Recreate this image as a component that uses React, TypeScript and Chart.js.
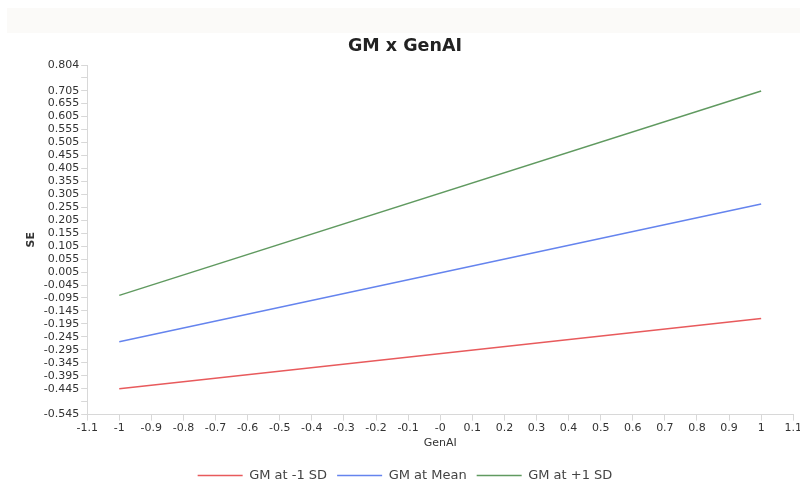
import React, { useEffect, useRef } from "react";
import { Chart, registerables } from "chart.js";

Chart.register(...registerables);

const genAI = [-1, 1];
const gmLow = [-0.445, -0.174];
const gmMean = [-0.264, 0.268];
const gmHigh = [-0.085, 0.704];

const seriesLabels = ["GM at -1 SD", "GM at Mean", "GM at +1 SD"];
const seriesColors = ["#e85a5c", "#6584ee", "#609a60"];

const yTickValues = [
  0.804, 0.755, 0.705, 0.655, 0.605, 0.555, 0.505, 0.455, 0.405, 0.355, 0.305,
  0.255, 0.205, 0.155, 0.105, 0.055, 0.005, -0.045, -0.095, -0.145, -0.195,
  -0.245, -0.295, -0.345, -0.395, -0.445, -0.495, -0.545,
];
const yTickLabels = [
  "0.804", "", "0.705", "0.655", "0.605", "0.555", "0.505", "0.455", "0.405",
  "0.355", "0.305", "0.255", "0.205", "0.155", "0.105", "0.055", "0.005",
  "-0.045", "-0.095", "-0.145", "-0.195", "-0.245", "-0.295", "-0.345",
  "-0.395", "-0.445", "", "-0.545",
];

const xTickValues = [
  -1.1, -1, -0.9, -0.8, -0.7, -0.6, -0.5, -0.4, -0.3, -0.2, -0.1, 0, 0.1, 0.2,
  0.3, 0.4, 0.5, 0.6, 0.7, 0.8, 0.9, 1, 1.1,
];
const xTickLabels = [
  "-1.1", "-1", "-0.9", "-0.8", "-0.7", "-0.6", "-0.5", "-0.4", "-0.3", "-0.2",
  "-0.1", "-0", "0.1", "0.2", "0.3", "0.4", "0.5", "0.6", "0.7", "0.8", "0.9",
  "1", "1.1",
];

const FONT = "'DejaVu Sans', sans-serif";

function lookup(values: number[], labels: string[], v: number) {
  let best = 0;
  let bd = Infinity;
  values.forEach((x, i) => {
    const d = Math.abs(x - v);
    if (d < bd) {
      bd = d;
      best = i;
    }
  });
  return labels[best];
}

export default function App() {
  const ref = useRef<HTMLCanvasElement | null>(null);

  useEffect(() => {
    if (!ref.current) return;
    const series = [gmLow, gmMean, gmHigh];
    const chart = new Chart(ref.current, {
      type: "line",
      data: {
        datasets: series.map((s, k) => ({
          label: seriesLabels[k],
          data: genAI.map((x, i) => ({ x, y: s[i] })),
          borderColor: seriesColors[k],
          backgroundColor: seriesColors[k],
          borderWidth: 1.5,
          pointRadius: 0,
          pointHoverRadius: 0,
          tension: 0,
        })),
      },
      options: {
        responsive: false,
        animation: false,
        layout: { padding: { top: 36, left: 0, right: 0, bottom: 0 } },
        plugins: {
          tooltip: { enabled: false },
          title: {
            display: true,
            text: "GM x GenAI",
            color: "#222",
            font: { family: FONT, size: 17.5, weight: "bold" },
            padding: { top: 0, bottom: 8 },
          },
          legend: {
            position: "bottom",
            labels: {
              usePointStyle: true,
              pointStyle: "line",
              pointStyleWidth: 45,
              color: "#444",
              font: { family: FONT, size: 13 },
              padding: 10,
            },
          },
        },
        scales: {
          x: {
            type: "linear",
            min: -1.1,
            max: 1.1,
            afterBuildTicks: (scale: any) => {
              scale.ticks = xTickValues.map((v) => ({ value: v }));
            },
            ticks: {
              autoSkip: false,
              maxRotation: 0,
              color: "#333",
              font: { family: FONT, size: 11 },
              padding: 1,
              callback: (v: any) => lookup(xTickValues, xTickLabels, Number(v)),
            },
            grid: {
              drawOnChartArea: false,
              color: "#d8d8d8",
              tickLength: 6,
            },
            border: { color: "#d8d8d8" },
            title: {
              display: true,
              text: "GenAI",
              color: "#333",
              font: { family: FONT, size: 11 },
              padding: { top: 1, bottom: 9 },
            },
          },
          y: {
            type: "linear",
            min: -0.545,
            max: 0.804,
            afterBuildTicks: (scale: any) => {
              scale.ticks = yTickValues
                .slice()
                .reverse()
                .map((v) => ({ value: v }));
            },
            ticks: {
              autoSkip: false,
              color: "#333",
              font: { family: FONT, size: 11 },
              padding: 2,
              callback: (v: any) => lookup(yTickValues, yTickLabels, Number(v)),
            },
            grid: {
              drawOnChartArea: false,
              color: "#d8d8d8",
              tickLength: 6,
            },
            border: { color: "#d8d8d8" },
            title: {
              display: true,
              text: "SE",
              color: "#333",
              font: { family: FONT, size: 11, weight: "bold" },
              padding: { top: 17.5, bottom: 4 },
            },
          },
        },
      },
    });
    return () => chart.destroy();
  }, []);

  return (
    <div
      style={{
        position: "fixed",
        left: 0,
        top: 0,
        width: 800,
        height: 488,
        overflow: "hidden",
        background: "#fff",
      }}
    >
      <div
        style={{
          position: "absolute",
          left: 7,
          top: 8,
          width: 793,
          height: 25,
          background: "#fbfaf8",
        }}
      />
      <div style={{ position: "absolute", left: 7, top: 0 }}>
        <canvas ref={ref} width={796} height={492} style={{ display: "block" }} />
      </div>
    </div>
  );
}
